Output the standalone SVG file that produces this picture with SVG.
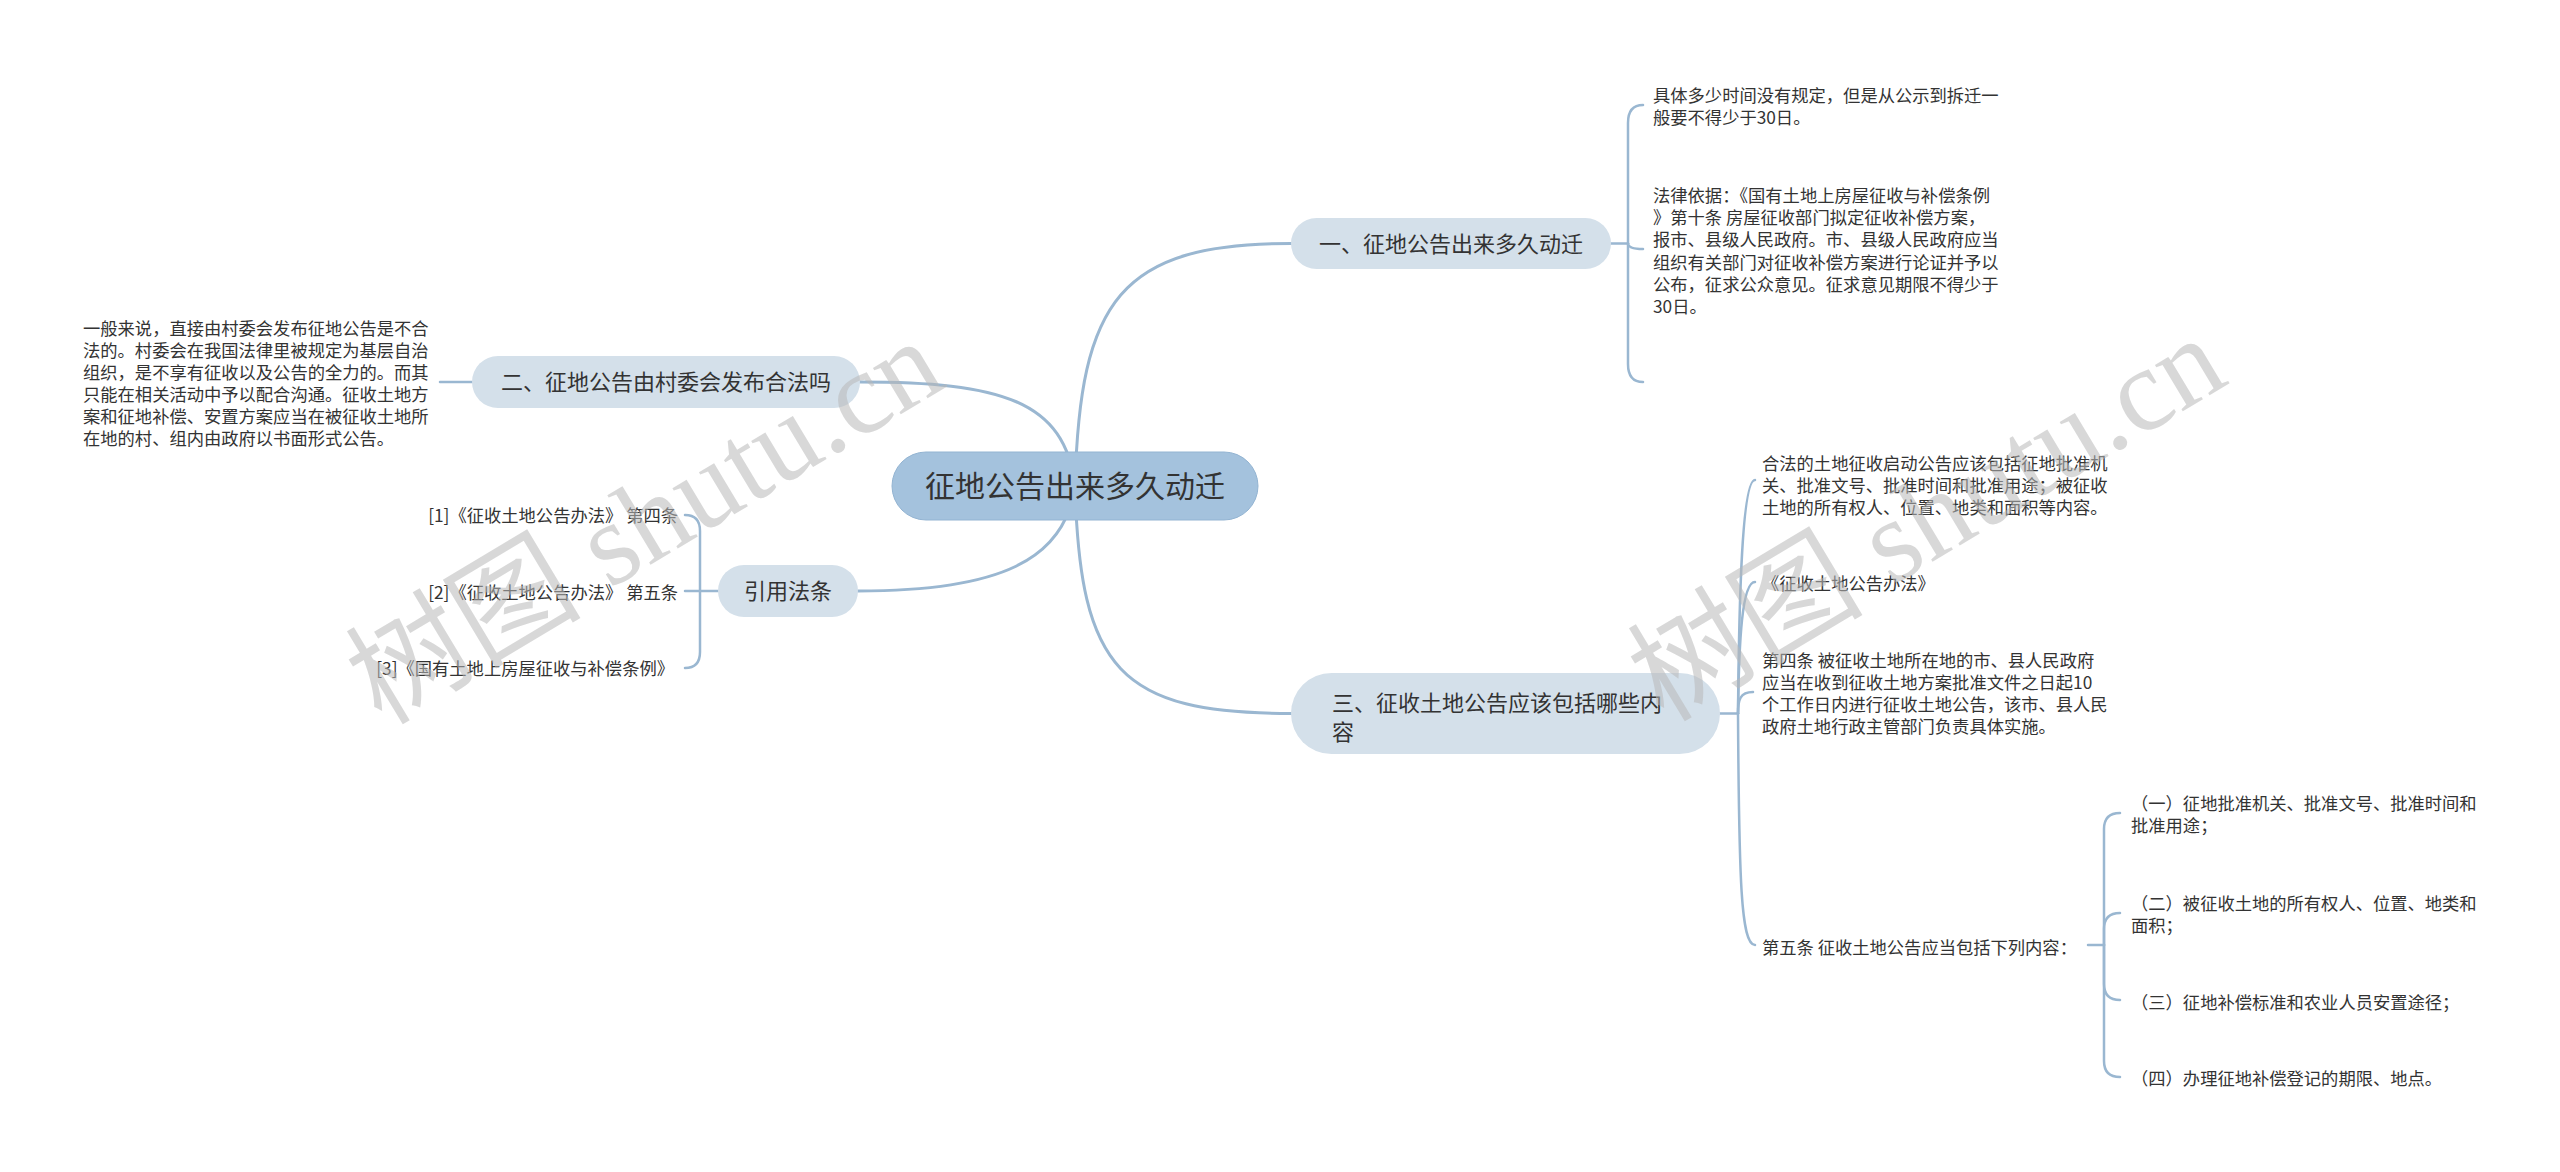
<svg xmlns="http://www.w3.org/2000/svg" width="2560" height="1172" viewBox="0 0 2560 1172">
<style>
.bg{fill:#ffffff}
.root{fill:#a4c2dd;stroke:#93b4d2;stroke-width:1}
.topic{fill:#d4e0ea}
.t{font-family:"Noto Sans CJK SC","Noto Sans",sans-serif;fill:#333333}
.rt{font-size:30px}
.nt{font-size:22px}
.st{font-size:17.3px}
.ln{fill:none;stroke:#9ab7d1;stroke-width:3;stroke-linecap:round}
.ln2{fill:none;stroke:#9ab7d1;stroke-width:2.5;stroke-linecap:round}
.wm{font-family:"Liberation Serif","Noto Sans CJK SC",serif;font-size:118px;fill:#b8b8b8;fill-opacity:0.55}
</style>
<rect class="bg" x="0" y="0" width="2560" height="1172"/>

<g id="connectors">
<path class="ln" d="M1075,486 C1080,300 1120,243.5 1291,243.5"/>
<path class="ln" d="M1075,486 C1080,670 1120,713.5 1291,713.5"/>
<path class="ln" d="M1075,486 C1065,400 1000,382 860,382"/>
<path class="ln" d="M1075,486 C1065,560 1000,591 858,591"/>
<path class="ln2" d="M1611,243.5 H1628"/>
<path class="ln2" d="M1628,243.5 V123 Q1628,105 1643,105"/>
<path class="ln2" d="M1628,243.5 Q1628,249 1643,249"/>
<path class="ln2" d="M1628,243.5 V364 Q1628,382 1643,382"/>
<path class="ln2" d="M440,382 H472"/>
<path class="ln2" d="M718,591 H700"/>
<path class="ln2" d="M700,591 V531 Q700,515 685,515"/>
<path class="ln2" d="M700,591 H685"/>
<path class="ln2" d="M700,591 V652 Q700,668 685,668"/>
<path class="ln2" d="M1720,713.5 H1738"/>
<path class="ln2" d="M1738,713.5 C1739,600 1742,480 1755,480"/>
<path class="ln2" d="M1738,713.5 C1739,640 1742,582 1755,582"/>
<path class="ln2" d="M1738,713.5 C1738,700 1740,692 1753,692"/>
<path class="ln2" d="M1738,713.5 C1739,880 1741,945 1755,945"/>
<path class="ln2" d="M2088,945 H2104"/>
<path class="ln2" d="M2104,945 V829 Q2104,813 2120,813"/>
<path class="ln2" d="M2104,945 V929 Q2104,913 2120,913"/>
<path class="ln2" d="M2104,945 V984 Q2104,1000 2120,1000"/>
<path class="ln2" d="M2104,945 V1061 Q2104,1077 2120,1077"/>
</g>

<g id="root">
<rect class="root" x="892" y="452" width="366" height="68" rx="34"/>
<text class="t rt" x="1075" y="497.4" text-anchor="middle">征地公告出来多久动迁</text>
</g>

<g id="n1">
<rect class="topic" x="1291" y="218" width="320" height="51" rx="25.5"/>
<text class="t nt" x="1451" y="251.9" text-anchor="middle">一、征地公告出来多久动迁</text>
</g>

<g id="n1c1">
<text class="t st" x="1653"><tspan x="1653" y="102">具体多少时间没有规定，但是从公示到拆迁一</tspan><tspan x="1653" y="124">般要不得少于30日。</tspan></text>
</g>

<g id="n1c2">
<text class="t st"><tspan x="1653" y="201.6">法律依据：《国有土地上房屋征收与补偿条例</tspan><tspan x="1653" y="223.9">》第十条 房屋征收部门拟定征收补偿方案，</tspan><tspan x="1653" y="246.2">报市、县级人民政府。市、县级人民政府应当</tspan><tspan x="1653" y="268.5">组织有关部门对征收补偿方案进行论证并予以</tspan><tspan x="1653" y="290.8">公布，征求公众意见。征求意见期限不得少于</tspan><tspan x="1653" y="313.1">30日。</tspan></text>
</g>

<g id="n2">
<rect class="topic" x="472" y="356" width="388" height="52" rx="26"/>
<text class="t nt" x="666" y="390.4" text-anchor="middle">二、征地公告由村委会发布合法吗</text>
</g>

<g id="n2c1">
<text class="t st"><tspan x="83" y="334.6">一般来说，直接由村委会发布征地公告是不合</tspan><tspan x="83" y="356.6">法的。村委会在我国法律里被规定为基层自治</tspan><tspan x="83" y="378.6">组织，是不享有征收以及公告的全力的。而其</tspan><tspan x="83" y="400.6">只能在相关活动中予以配合沟通。征收土地方</tspan><tspan x="83" y="422.6">案和征地补偿、安置方案应当在被征收土地所</tspan><tspan x="83" y="444.6">在地的村、组内由政府以书面形式公告。</tspan></text>
</g>

<g id="n4">
<rect class="topic" x="718" y="565" width="140" height="52" rx="26"/>
<text class="t nt" x="788" y="599.4" text-anchor="middle">引用法条</text>
</g>

<g id="n4c1">
<text class="t st" x="678" y="521.6" text-anchor="end">[1]《征收土地公告办法》 第四条</text>
</g>
<g id="n4c2">
<text class="t st" x="678" y="598.6" text-anchor="end">[2]《征收土地公告办法》 第五条</text>
</g>
<g id="n4c3">
<text class="t st" x="674" y="674.6" text-anchor="end">[3]《国有土地上房屋征收与补偿条例》</text>
</g>

<g id="n3">
<rect class="topic" x="1291" y="673" width="429" height="81" rx="40.5"/>
<text class="t nt"><tspan x="1332" y="711">三、征收土地公告应该包括哪些内</tspan><tspan x="1332" y="740">容</tspan></text>
</g>

<g id="n3c1">
<text class="t st"><tspan x="1762" y="469.6">合法的土地征收启动公告应该包括征地批准机</tspan><tspan x="1762" y="491.6">关、批准文号、批准时间和批准用途；被征收</tspan><tspan x="1762" y="513.6">土地的所有权人、位置、地类和面积等内容。</tspan></text>
</g>
<g id="n3c2">
<text class="t st" x="1762" y="589.6">《征收土地公告办法》</text>
</g>
<g id="n3c3">
<text class="t st"><tspan x="1762" y="666.6">第四条 被征收土地所在地的市、县人民政府</tspan><tspan x="1762" y="688.6">应当在收到征收土地方案批准文件之日起10</tspan><tspan x="1762" y="710.6">个工作日内进行征收土地公告，该市、县人民</tspan><tspan x="1762" y="732.6">政府土地行政主管部门负责具体实施。</tspan></text>
</g>
<g id="n3c4">
<text class="t st" x="1762" y="953.6">第五条 征收土地公告应当包括下列内容：</text>
</g>

<g id="n3c4a">
<text class="t st"><tspan x="2131" y="809.6">（一）征地批准机关、批准文号、批准时间和</tspan><tspan x="2131" y="831.6">批准用途；</tspan></text>
</g>
<g id="n3c4b">
<text class="t st"><tspan x="2131" y="909.6">（二）被征收土地的所有权人、位置、地类和</tspan><tspan x="2131" y="931.6">面积；</tspan></text>
</g>
<g id="n3c4c">
<text class="t st" x="2131" y="1008.6">（三）征地补偿标准和农业人员安置途径；</text>
</g>
<g id="n3c4d">
<text class="t st" x="2131" y="1084.6">（四）办理征地补偿登记的期限、地点。</text>
</g>

<g id="watermarks">
<text class="wm" x="645" y="522" text-anchor="middle" dominant-baseline="central" transform="rotate(-31 645 522)">树图 shutu.cn</text>
<text class="wm" x="1927" y="519" text-anchor="middle" dominant-baseline="central" transform="rotate(-31 1927 519)">树图 shutu.cn</text>
</g>
</svg>
